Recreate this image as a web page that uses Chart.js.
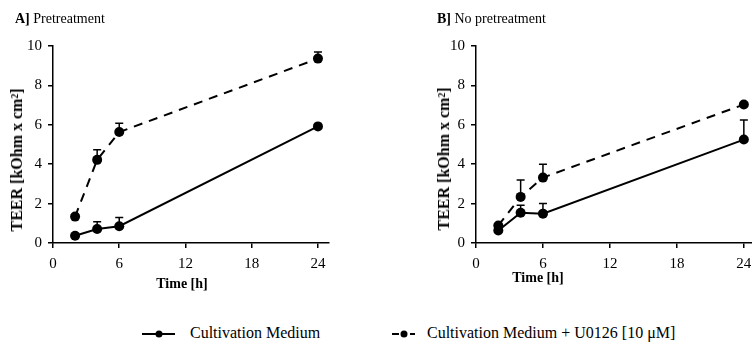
<!DOCTYPE html>
<html>
<head>
<meta charset="utf-8">
<script src="https://cdn.jsdelivr.net/npm/chart.js@4.4.0/dist/chart.umd.min.js"></script>
<style>
  body { margin: 0; width: 752px; height: 347px; overflow: hidden; background: #fff; position: relative; font-family: "Liberation Serif", serif; color: #000; }
  canvas { position: absolute; top: 0; }
  .txt { position: absolute; white-space: nowrap; font-size: 14px; line-height: 18px; }
  .mid { transform: translate(-50%, -50%); font-weight: bold; }
  .ytitle { position: absolute; white-space: nowrap; font-size: 16px; line-height: 18px; font-weight: bold; transform: translate(-50%, -50%) rotate(-90deg); }
  .leg { position: absolute; white-space: nowrap; font-size: 16px; line-height: 18px; transform: translateY(-50%); }
  svg { position: absolute; }
</style>
</head>
<body>
<canvas id="chartA" width="376" height="300" style="left:0px"></canvas>
<canvas id="chartB" width="379" height="300" style="left:423px"></canvas>

<div class="txt" style="left:15px; top:10px"><b>A]</b> Pretreatment</div>
<div class="txt" style="left:437px; top:10px"><b>B]</b> No pretreatment</div>
<div class="ytitle" style="left:17px; top:160px">TEER [kOhm x cm²]</div>
<div class="ytitle" style="left:444px; top:159px">TEER [kOhm x cm²]</div>
<div class="txt mid" style="left:182px; top:284px">Time [h]</div>
<div class="txt mid" style="left:538px; top:278px">Time [h]</div>

<svg style="left:140px; top:326px" width="40" height="16">
  <line x1="2" y1="8" x2="35" y2="8" stroke="#000" stroke-width="2"/>
  <circle cx="19" cy="8" r="3.5" fill="#000"/>
</svg>
<div class="leg" style="left:190px; top:333px">Cultivation Medium</div>
<svg style="left:390px; top:326px" width="30" height="16">
  <line x1="2" y1="8" x2="25" y2="8" stroke="#000" stroke-width="2" stroke-dasharray="7,11"/>
  <circle cx="14" cy="8" r="3.5" fill="#000"/>
</svg>
<div class="leg" style="left:427px; top:333px">Cultivation Medium + U0126 [10 μM]</div>

<script>
const hours = [2, 4, 6, 24];
const xTicks = [0, 6, 12, 18, 24];
const yTicks = [0, 2, 4, 6, 8, 10];

// panel A: pretreatment
const preMedium = [0.37, 0.71, 0.85, 5.92];
const preMediumErr = [0, 0.37, 0.45, 0];
const preU0126 = [1.34, 4.22, 5.63, 9.36];
const preU0126Err = [0, 0.51, 0.45, 0.33];

// panel B: no pretreatment
const noMedium = [0.63, 1.54, 1.49, 5.25];
const noMediumErr = [0, 0.37, 0.51, 0.99];
const noU0126 = [0.89, 2.34, 3.32, 7.03];
const noU0126Err = [0, 0.86, 0.68, 0];

const fam = "'Liberation Serif', serif";

const errorBars = {
  id: "errorBars",
  afterDatasetsDraw(chart) {
    const ctx = chart.ctx;
    const y = chart.scales.y;
    ctx.save();
    ctx.strokeStyle = "#000";
    ctx.lineWidth = 1.5;
    chart.data.datasets.forEach((ds, i) => {
      const meta = chart.getDatasetMeta(i);
      meta.data.forEach((pt, j) => {
        const e = ds.errors[j];
        if (!e) return;
        const top = y.getPixelForValue(ds.data[j].y + e);
        ctx.beginPath();
        ctx.moveTo(pt.x, pt.y);
        ctx.lineTo(pt.x, top);
        ctx.moveTo(pt.x - 4, top);
        ctx.lineTo(pt.x + 4, top);
        ctx.stroke();
      });
    });
    ctx.restore();
  },
};

function toPoints(vals) {
  return hours.map((h, i) => ({ x: h, y: vals[i] }));
}

function makeChart(id, medium, mediumErr, u0126, u0126Err) {
  const ctx = document.getElementById(id).getContext("2d");
  return new Chart(ctx, {
    type: "line",
    data: {
      datasets: [
        {
          label: "Cultivation Medium",
          data: toPoints(medium),
          errors: mediumErr,
          borderColor: "#000",
          backgroundColor: "#000",
          borderWidth: 2,
          pointRadius: 5,
          pointBackgroundColor: "#000",
          pointBorderWidth: 0,
        },
        {
          label: "Cultivation Medium + U0126 [10 μM]",
          data: toPoints(u0126),
          errors: u0126Err,
          borderColor: "#000",
          backgroundColor: "#000",
          borderWidth: 2,
          borderDash: [9, 7],
          pointRadius: 5,
          pointBackgroundColor: "#000",
          pointBorderWidth: 0,
        },
      ],
    },
    options: {
      responsive: false,
      animation: false,
      devicePixelRatio: 1,
      layout: { padding: { top: 46, right: 47, bottom: 0, left: 0 } },
      plugins: { legend: { display: false }, tooltip: { enabled: false } },
      scales: {
        x: {
          type: "linear",
          min: 0,
          max: 25,
          afterBuildTicks: (s) => { s.ticks = xTicks.map((v) => ({ value: v })); },
          afterFit: (s) => { s.height = 57; },
          grid: { drawOnChartArea: false, drawTicks: true, tickLength: 5, color: "#000", lineWidth: 1.5 },
          border: { color: "#000", width: 1.5 },
          ticks: { color: "#000", font: { family: fam, size: 15 }, padding: 7, maxRotation: 0 },
        },
        y: {
          min: 0,
          max: 10,
          afterBuildTicks: (s) => { s.ticks = yTicks.map((v) => ({ value: v })); },
          afterFit: (s) => { s.width = 53; },
          grid: { drawOnChartArea: false, drawTicks: true, tickLength: 5, color: "#000", lineWidth: 1.5 },
          border: { color: "#000", width: 1.5 },
          ticks: { color: "#000", font: { family: fam, size: 15 }, padding: 6 },
        },
      },
    },
    plugins: [errorBars],
  });
}

makeChart("chartA", preMedium, preMediumErr, preU0126, preU0126Err);
makeChart("chartB", noMedium, noMediumErr, noU0126, noU0126Err);
</script>
</body>
</html>
